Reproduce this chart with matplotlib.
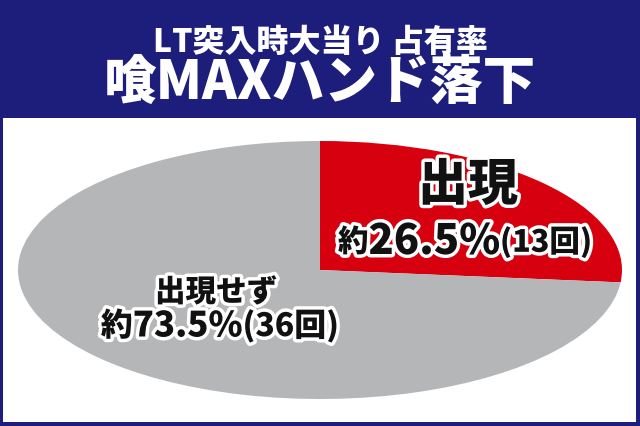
import matplotlib
matplotlib.use('Agg')
import matplotlib.pyplot as plt
import matplotlib.patheffects as pe
from matplotlib.patches import Rectangle

plt.rcParams['font.family'] = ['Noto Sans CJK JP', 'DejaVu Sans']

# data
labels = ['出現', '出現せず']
counts = [13, 36]
shares = [26.5, 73.5]
title_lines = ['LT突入時大当り 占有率', '喰MAXハンド落下']

navy = '#1d1d7c'
red = '#d7000f'
gray = '#b5b6b8'

W, H = 640, 427
fig = plt.figure(figsize=(W / 100, H / 100), dpi=100, facecolor=navy)

# white panel under the header
fig.patches.append(Rectangle((3 / W, 4 / H), 633 / W, (H - 119 - 4) / H,
                             transform=fig.transFigure, facecolor='white',
                             edgecolor='none', zorder=-1))


def fx(x):
    return x / W


def fy(y):
    return 1 - y / H


# header
fig.text(fx(320), fy(42), title_lines[0], color='white', fontsize=23,
         fontweight='black', ha='center', va='center')
fig.text(fx(320), fy(83), title_lines[1], color='white', fontsize=38,
         fontweight='black', ha='center', va='center')

# stretched pie
ax = fig.add_axes([fx(18), fy(400), (622 - 18) / W, (400 - 142) / H])
ax.pie(counts, colors=[red, gray], startangle=90, counterclock=False,
       wedgeprops=dict(linewidth=0))
ax.set_aspect('auto')
ax.set_xlim(-1, 1)
ax.set_ylim(-1, 1)
ax.axis('off')

stroke = [pe.withStroke(linewidth=5, foreground='white')]
renderer = fig.canvas.get_renderer()


def run_text(cx, cy, parts):
    # parts: list of (text, size); laid out side by side, centred on cx
    items = []
    for s, size in parts:
        t = fig.text(0, fy(cy), s, fontsize=size, fontweight='black',
                     color='#111111', ha='left', va='center',
                     path_effects=stroke, zorder=5)
        w = t.get_window_extent(renderer).width
        items.append((t, w))
    total = sum(w for _, w in items)
    x = cx - total / 2
    for t, w in items:
        t.set_x(fx(x))
        x += w


run_text(468, 186, [(labels[0], 36)])
run_text(465, 243, [('約', 22), (f'{shares[0]}%', 30),
                    (f'({counts[0]}回)', 22)])
run_text(216, 293, [(labels[1], 22)])
run_text(220, 327, [('約', 23), (f'{shares[1]}%', 25),
                    (f'({counts[1]}回)', 23)])

fig.savefig('out.png', dpi=100, facecolor=navy)
